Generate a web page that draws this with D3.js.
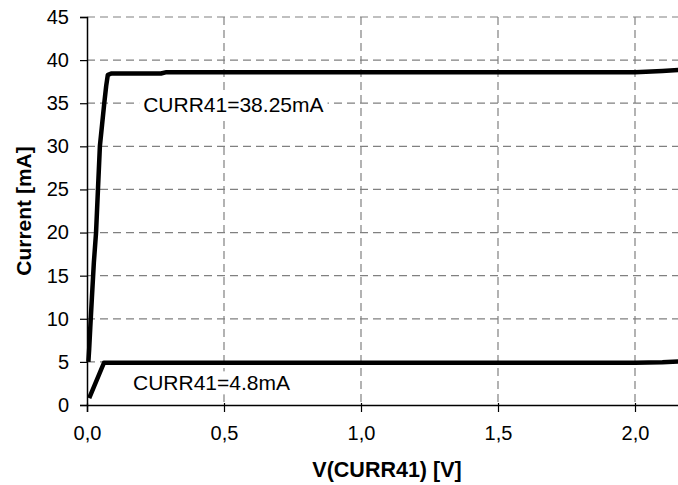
<!DOCTYPE html>
<html>
<head>
<meta charset="utf-8">
<script src="https://cdn.jsdelivr.net/npm/d3@7"></script>
<style>
	body { margin: 0; background: #fff; }
	text { font-family: "Liberation Sans", Arial, sans-serif; }
</style>
</head>
<body>
<div id="chart"></div>
<script>
// values
var upperV = [0.005, 0.008, 0.012, 0.018, 0.025, 0.033, 0.040, 0.047, 0.055, 0.063, 0.070, 0.076, 0.090, 0.150, 0.270, 0.290, 1.000, 1.500, 2.000, 2.100, 2.200];
var upperI = [5.0, 6.5, 9.0, 12.5, 16.5, 20.0, 25.0, 30.0, 32.5, 35.0, 37.0, 38.3, 38.45, 38.45, 38.45, 38.6, 38.6, 38.6, 38.6, 38.75, 38.95];
var lowerV = [0.008, 0.062, 0.100, 1.000, 2.000, 2.100, 2.200];
var lowerI = [0.8, 4.9, 4.9, 4.9, 4.9, 4.95, 5.1];
var xTicks = [0, 0.5, 1.0, 1.5, 2.0];
var yTicks = [0, 5, 10, 15, 20, 25, 30, 35, 40, 45];
var labels = [
	{ text: "CURR41=38.25mA", v: 0.205, i: 34.8 },
	{ text: "CURR41=4.8mA", v: 0.168, i: 2.55 }
];

var width = 678, height = 485;
var margin = { top: 17, left: 87, bottom: 80 };

var svg = d3.select("#chart").append("svg")
	.attr("width", width)
	.attr("height", height);

// x axis goes past the right edge of the picture
var x = d3.scaleLinear().domain([0, 2.2]).range([margin.left, margin.left + 2.2 * 274]);
var y = d3.scaleLinear().domain([0, 45]).range([height - margin.bottom, margin.top]);

// grid
svg.append("g")
	.selectAll("line")
	.data(yTicks.slice(1))
	.join("line")
	.attr("x1", margin.left)
	.attr("x2", width)
	.attr("y1", (d) => y(d))
	.attr("y2", (d) => y(d))
	.attr("stroke", "#808080")
	.attr("stroke-width", 1.2)
	.attr("stroke-dasharray", "8,5");

svg.append("g")
	.selectAll("line")
	.data(xTicks.slice(1))
	.join("line")
	.attr("x1", (d) => x(d))
	.attr("x2", (d) => x(d))
	.attr("y1", y(45))
	.attr("y2", y(0))
	.attr("stroke", "#808080")
	.attr("stroke-width", 1.2)
	.attr("stroke-dasharray", "8,5");

// axes
var xAxis = svg.append("g")
	.attr("transform", `translate(0, ${y(0)})`)
	.call(d3.axisBottom(x).tickValues(xTicks).tickSize(7).tickPadding(14)
		.tickFormat((d) => d3.format(".1f")(d).replace(".", ",")));
var yAxis = svg.append("g")
	.attr("transform", `translate(${margin.left}, 0)`)
	.call(d3.axisLeft(y).tickValues(yTicks).tickSize(7).tickPadding(11));

[xAxis, yAxis].forEach((a) => {
	a.select(".domain").attr("stroke", "#000").attr("stroke-width", 1.5);
	a.selectAll(".tick line").attr("stroke", "#000").attr("stroke-width", 1.2);
	a.selectAll("text")
		.attr("fill", "#000")
		.style("font-size", "20px")
		.style("font-family", "'Liberation Sans', Arial, sans-serif");
});
xAxis.selectAll(".tick line").attr("y1", -2);

// curves
var line = d3.line()
	.x((d) => x(d[0]))
	.y((d) => y(d[1]));

svg.append("path")
	.datum(upperV.map((v, k) => [v, upperI[k]]))
	.attr("d", line)
	.attr("fill", "none")
	.attr("stroke", "#000")
	.attr("stroke-width", 4.5)
	.attr("stroke-linejoin", "round");

svg.append("path")
	.datum(lowerV.map((v, k) => [v, lowerI[k]]))
	.attr("d", line)
	.attr("fill", "none")
	.attr("stroke", "#000")
	.attr("stroke-width", 4.5)
	.attr("stroke-linejoin", "round");

// annotations with white box behind
labels.forEach((l) => {
	var g = svg.append("g");
	var t = g.append("text")
		.attr("x", x(l.v))
		.attr("y", y(l.i))
		.attr("dy", "0.35em")
		.attr("text-anchor", "start")
		.attr("font-size", "21px")
		.text(l.text);
	var b = t.node().getBBox();
	g.insert("rect", "text")
		.attr("x", b.x - 4)
		.attr("y", b.y)
		.attr("width", b.width + 8)
		.attr("height", b.height)
		.attr("fill", "#fff");
});

// titles
svg.append("text")
	.attr("x", 387)
	.attr("y", 477)
	.attr("text-anchor", "middle")
	.attr("font-size", "21.5px")
	.attr("font-weight", "bold")
	.text("V(CURR41) [V]");

svg.append("text")
	.attr("transform", `translate(31, ${y(22.5)}) rotate(-90)`)
	.attr("text-anchor", "middle")
	.attr("font-size", "21px")
	.attr("font-weight", "bold")
	.text("Current [mA]");
</script>
</body>
</html>
